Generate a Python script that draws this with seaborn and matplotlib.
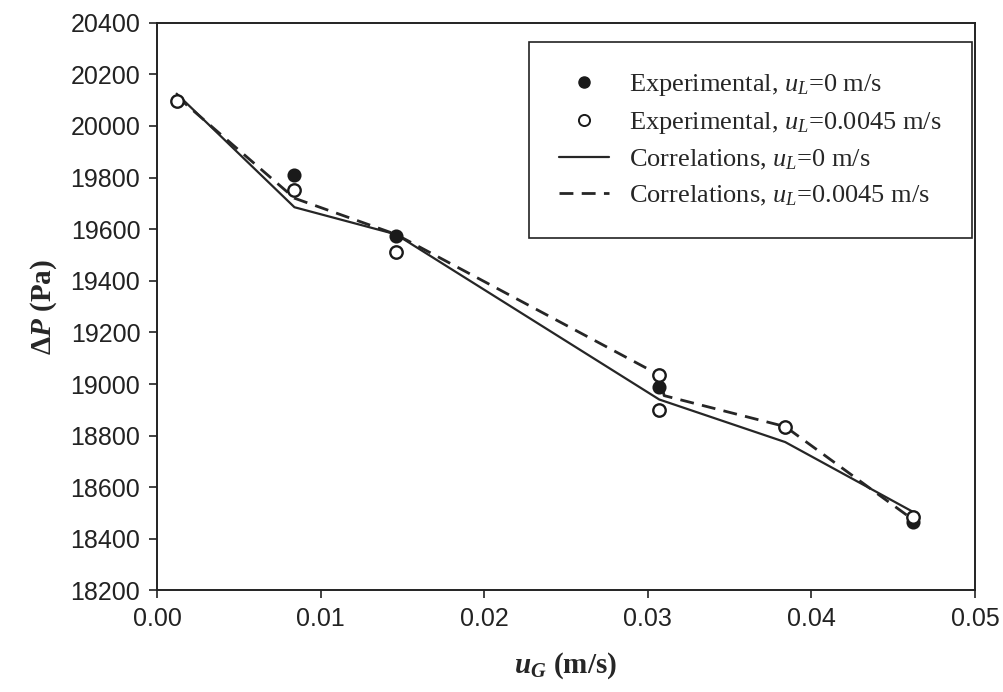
import matplotlib
matplotlib.use("Agg")
import matplotlib.pyplot as plt
import seaborn as sns
import pandas as pd
from matplotlib.lines import Line2D

# Data
exp0_x = [0.0084, 0.0146, 0.0307, 0.0462]
exp0_y = [19810, 19575, 18990, 18465]

exp45_x = [0.0012, 0.0084, 0.0146, 0.0307, 0.0307, 0.0384, 0.0462]
exp45_y = [20095, 19750, 19510, 19035, 18900, 18835, 18485]

cor0_x = [0.0012, 0.0084, 0.0146, 0.0307, 0.0384, 0.0462]
cor0_y = [20125, 19685, 19580, 18940, 18775, 18505]

cor45_x = [0.0012, 0.0084, 0.0146, 0.0307, 0.0310, 0.0384, 0.0462]
cor45_y = [20115, 19720, 19580, 19035, 18955, 18835, 18475]

xticks = [0.00, 0.01, 0.02, 0.03, 0.04, 0.05]
yticks = list(range(18200, 20401, 200))

sns.set_theme(style="ticks")
plt.rcParams["mathtext.fontset"] = "custom"
plt.rcParams["mathtext.rm"] = "Liberation Serif"
plt.rcParams["mathtext.it"] = "Liberation Serif:italic"
plt.rcParams["mathtext.bf"] = "Liberation Serif:bold"
plt.rcParams["mathtext.bfit"] = "Liberation Serif:italic:bold"

fig = plt.figure(figsize=(10.04, 6.92), dpi=100)
ax = fig.add_axes([0.1564, 0.1467, 0.9711 - 0.1564, 0.9672 - 0.1467])

lc = "#262626"
sns.lineplot(x=cor0_x, y=cor0_y, ax=ax, estimator=None, sort=False,
             color=lc, linewidth=1.6, linestyle="-")
sns.lineplot(x=cor45_x, y=cor45_y, ax=ax, estimator=None, sort=False,
             color=lc, linewidth=2.0, linestyle=(0, (5, 3)))
sns.scatterplot(x=exp0_x, y=exp0_y, ax=ax, s=80, color="#1a1a1a",
                edgecolor="#1a1a1a", linewidth=1.2, zorder=5)
sns.scatterplot(x=exp45_x, y=exp45_y, ax=ax, s=80, facecolor="white",
                edgecolor="#1a1a1a", linewidth=1.7, zorder=6)

ax.set_xlim(0, 0.05)
ax.set_ylim(18200, 20400)
ax.set_xticks(xticks)
ax.set_xticklabels([f"{v:.2f}" for v in xticks])
ax.set_yticks(yticks)
ax.set_yticklabels([str(v) for v in yticks])
for lab in ax.get_xticklabels() + ax.get_yticklabels():
    lab.set_family("Liberation Sans")
    lab.set_fontsize(18)
    lab.set_color("#222222")
ax.tick_params(direction="out", length=6, width=1.2, color="#222222", pad=6)
for sp in ax.spines.values():
    sp.set_visible(True)
    sp.set_color("#222222")
    sp.set_linewidth(1.4)

ax.set_xlabel(r"$\mathbfit{u}_{\mathbfit{G}}$ (m/s)", family="Liberation Serif",
              fontweight="bold", fontsize=21, labelpad=14)
ax.set_ylabel(r"$\mathbf{\Delta}\mathbfit{P}$ (Pa)", family="Liberation Serif",
              fontweight="bold", fontsize=21, labelpad=8)

handles = [
    Line2D([], [], marker="o", linestyle="none", color="#1a1a1a",
           markerfacecolor="#1a1a1a", markersize=8),
    Line2D([], [], marker="o", linestyle="none", color="#1a1a1a",
           markerfacecolor="white", markersize=8, markeredgewidth=1.4),
    Line2D([], [], color=lc, linewidth=1.6),
    Line2D([], [], color=lc, linewidth=2.0, linestyle=(0, (5, 3))),
]
labels = [
    r"Experimental, $u_L$=0 m/s",
    r"Experimental, $u_L$=0.0045 m/s",
    r"Correlations, $u_L$=0 m/s",
    r"Correlations, $u_L$=0.0045 m/s",
]
leg = ax.legend(handles, labels, loc="upper right",
                bbox_to_anchor=(0.9963, 0.966), frameon=True, fancybox=False,
                edgecolor="#222222", framealpha=1,
                prop={"family": "Liberation Serif", "size": 19},
                handlelength=1.9, handletextpad=0.75, labelspacing=0.44,
                borderpad=1.15, borderaxespad=0)
leg.get_frame().set_linewidth(1.2)

fig.savefig("out.png", dpi=100)
